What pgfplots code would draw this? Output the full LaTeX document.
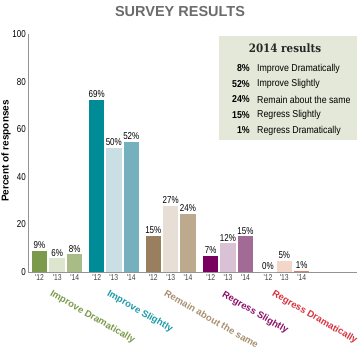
\documentclass[border=0pt]{standalone}
\usepackage{fontspec}
\setmainfont{Liberation Sans}
\newfontfamily\cond[FakeStretch=0.8]{Liberation Sans}
\newfontfamily\condl[FakeStretch=0.88]{Liberation Sans}
\newfontfamily\slab[FakeStretch=0.9]{DejaVu Serif}
\usepackage{pgfplots}
\pgfplotsset{compat=1.18}
\definecolor{idA}{HTML}{7B9A4B}
\definecolor{idB}{HTML}{DDE5CF}
\definecolor{idC}{HTML}{A9BC88}
\definecolor{isA}{HTML}{008C97}
\definecolor{isB}{HTML}{C9DFE4}
\definecolor{isC}{HTML}{74B0BD}
\definecolor{rmA}{HTML}{9A7F5F}
\definecolor{rmB}{HTML}{E7DED5}
\definecolor{rmC}{HTML}{BCA98E}
\definecolor{rsA}{HTML}{7A005F}
\definecolor{rsB}{HTML}{D9C2D6}
\definecolor{rsC}{HTML}{A26B96}
\definecolor{rdB}{HTML}{F3D5C9}
\definecolor{rdC}{HTML}{D9816F}
\definecolor{idT}{HTML}{7B9A4B}
\definecolor{isT}{HTML}{1B9BA6}
\definecolor{rmT}{HTML}{A88F6E}
\definecolor{rsT}{HTML}{8B1068}
\definecolor{rdT}{HTML}{D8323F}
\definecolor{boxbg}{HTML}{E3E8D8}
\definecolor{titlegray}{HTML}{6B6B6B}
\newcommand{\onebar}[4]{\addplot[fill=#1, draw=none] coordinates {(#2,#3) [#4]};}
\begin{document}
\begin{tikzpicture}[x=1pt,y=1pt]
\useasboundingbox (0,0) rectangle (360,360);
\begin{axis}[
  at={(28pt,88pt)}, anchor=south west,
  scale only axis, width=329pt, height=238pt,
  xmin=28, xmax=357, ymin=0, ymax=100,
  ybar, bar shift=0pt, bar width=15.5,
  axis x line*=bottom, axis y line*=left,
  axis line style={draw=gray!85, -, line width=0.8pt},
  major tick length=0pt,
  ytick={0,20,40,60,80,100},
  xtick={39.5,57.2,74.7,96.7,113.8,131.3,153.3,170.7,188,210.7,228,245.5,268,284.3,301.7},
  xticklabels={'12,'13,'14,'12,'13,'14,'12,'13,'14,'12,'13,'14,'12,'13,'14},
  /pgf/number format/assume math mode=true,
  yticklabel style={font=\cond\fontsize{10}{10}\selectfont, text=black, inner sep=2pt},
  xticklabel style={font=\cond\fontsize{8.5}{8.5}\selectfont, text=black!75, inner sep=2pt},
  nodes near coords, point meta=explicit symbolic,
  every node near coord/.append style={font=\cond\fontsize{10}{10}\selectfont, text=black, inner sep=2pt},
  clip=false,
]
\onebar{idA}{39.5}{9}{9\%}
\onebar{idB}{57.2}{5.7}{6\%}
\onebar{idC}{74.7}{7.4}{8\%}
\onebar{isA}{96.7}{72.3}{69\%}
\onebar{isB}{113.8}{52}{50\%}
\onebar{isC}{131.3}{54.5}{52\%}
\onebar{rmA}{153.3}{15.1}{15\%}
\onebar{rmB}{170.7}{27.7}{27\%}
\onebar{rmC}{188}{24.4}{24\%}
\onebar{rsA}{210.7}{6.7}{7\%}
\onebar{rsB}{228}{12}{12\%}
\onebar{rsC}{245.5}{15}{15\%}
\onebar{white}{268}{0}{0\%}
\onebar{rdB}{284.3}{4.7}{5\%}
\onebar{rdC}{301.7}{0.6}{1\%}
\end{axis}
% title
\node[font=\bfseries\fontsize{14.5}{14.5}\selectfont, text=titlegray] at (180,348) {SURVEY RESULTS};
% y label
\node[font=\bfseries\fontsize{10}{10}\selectfont, rotate=90] at (6,209) {Percent of responses};
% category labels
\begin{scope}[every node/.style={font=\bfseries\fontsize{9.5}{9.5}\selectfont, rotate=-30, anchor=north west, inner sep=0pt}]
\node[text=idT] at (53,71) {Improve Dramatically};
\node[text=isT] at (110,71) {Improve Slightly};
\node[text=rmT] at (167,71) {Remain about the same};
\node[text=rsT] at (225,70) {Regress Slightly};
\node[text=rdT] at (275,71) {Regress Dramatically};
\end{scope}
% legend box
\fill[boxbg] (219,324) rectangle (357,220);
\node[font=\slab\bfseries\fontsize{11.5}{11.5}\selectfont, text=black!85] at (285,312) {2014 results};
\begin{scope}[every node/.style={inner sep=0pt}]
\foreach \yy/\pp/\lab in {291.5/8\%/Improve Dramatically, 276/52\%/Improve Slightly, 260.5/24\%/Remain about the same, 245/15\%/Regress Slightly, 229.5/1\%/Regress Dramatically}{
  \node[anchor=east, font=\condl\bfseries\fontsize{10}{10}\selectfont] at (250,\yy) {\pp};
  \node[anchor=west, font=\condl\fontsize{10}{10}\selectfont] at (257,\yy) {\lab};
}
\end{scope}
\end{tikzpicture}
\end{document}
